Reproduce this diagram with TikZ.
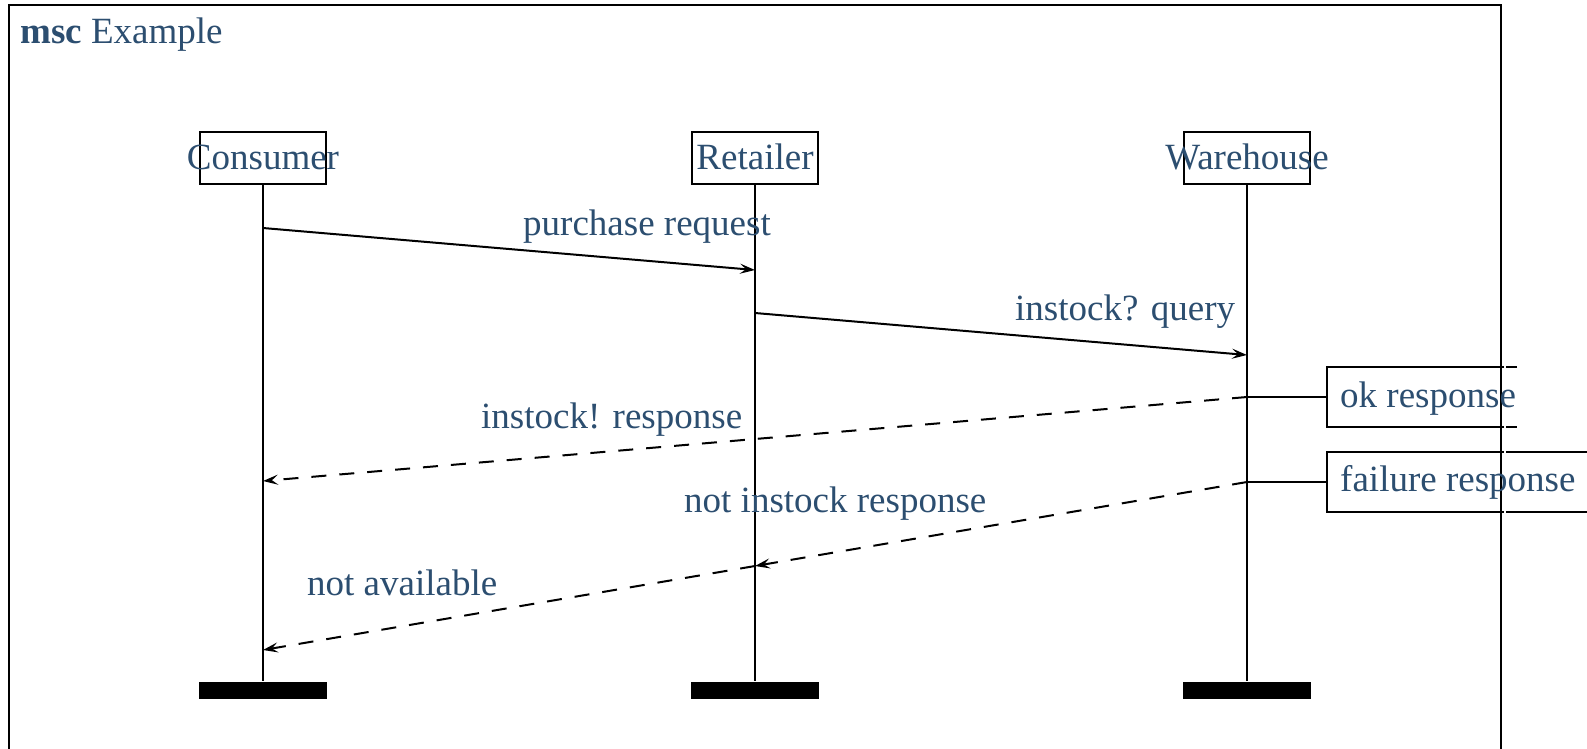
\documentclass[tikz,border=0pt]{standalone}
\usepackage{fontspec}
\setmainfont{Liberation Serif}
\usetikzlibrary{arrows.meta}
\definecolor{msctext}{RGB}{44,78,112}
\begin{document}
\begin{tikzpicture}[x=1pt,y=-1pt,
  lbl/.style={text=msctext, font=\fontsize{37}{44}\selectfont, inner sep=0pt},
  inst/.style={draw, line width=2.2pt, minimum width=126pt, minimum height=52pt, inner sep=0pt},
  endbar/.style={fill=black, minimum width=128pt, minimum height=17pt, inner sep=0pt},
  lifeline/.style={line width=2.2pt},
  msg/.style={line width=2pt, -{Stealth[length=15pt,width=10pt,inset=6pt]}},
  reply/.style={msg, dash pattern=on 15pt off 13pt},
  framed/.style={line width=2.2pt},
  cmt/.style={line width=2pt},
  ]
\clip (0,0) rectangle (1587,748);
\fill[white] (0,0) rectangle (1587,748);

% frame of the chart
\draw[framed] (9,5) rectangle (1501,800);
\node[lbl, anchor=base west] (title) at (20,43) {\textbf{msc} Example};

% instances
\node[inst] (cons) at (263,158) {};
\node[inst] (ret)  at (755,158) {};
\node[inst] (ware) at (1247,158) {};
\node[lbl, anchor=base] (consL) at (263,169) {Consumer};
\node[lbl, anchor=base] (retL)  at (755,169) {Retailer};
\node[lbl, anchor=base] (wareL) at (1247,169) {Warehouse};

% instance ends
\node[endbar] (consE) at (263,690) {};
\node[endbar] (retE)  at (755,690) {};
\node[endbar] (wareE) at (1247,690) {};

% lifelines
\draw[lifeline] (cons.south) -- (consE.north);
\draw[lifeline] (ret.south)  -- (retE.north);
\draw[lifeline] (ware.south) -- (wareE.north);

% message events on the lifelines
\coordinate (c1) at (263,228);
\coordinate (r1) at (755,270);
\coordinate (r2) at (755,313);
\coordinate (w2) at (1247,355);
\coordinate (w3) at (1247,397);
\coordinate (c3) at (263,481);
\coordinate (w4) at (1247,482);
\coordinate (r4) at (755,566);
\coordinate (r5) at (755,566);
\coordinate (c5) at (263,650);

% messages
\draw[msg] (c1) -- (r1);
\node[lbl, anchor=base west] (m1) at (523,235) {purchase request};
\draw[msg] (r2) -- (w2);
\node[lbl, anchor=base west] (m2) at (1015,320) {instock? query};
\draw[reply] (w3) -- (c3);
\node[lbl, anchor=base west] (m3) at (481,428) {instock! response};
\draw[reply] (w4) -- (r4);
\node[lbl, anchor=base west] (m4) at (684,512) {not instock response};
\draw[reply] (r5) -- (c5);
\node[lbl, anchor=base west] (m5) at (307,595) {not available};

% comments attached to the warehouse
\coordinate (okNW) at (1327,367);
\coordinate (okSW) at (1327,427);
\coordinate (okNE) at (1517,367);
\coordinate (okSE) at (1517,427);
\node[lbl, anchor=base west] (ok) at (1340,407) {ok response};
\draw[cmt] (okNE) -- (okNW) -- (okSW) -- (okSE);
\draw[cmt] (w3) -- (okNW |- w3);

\coordinate (faNW) at (1327,452);
\coordinate (faSW) at (1327,512);
\coordinate (faNE) at (1600,452);
\coordinate (faSE) at (1600,512);
\node[lbl, anchor=base west] (fail) at (1340,491) {failure response};
\draw[cmt] (faNE) -- (faNW) -- (faSW) -- (faSE);
\draw[cmt] (w4) -- (faNW |- w4);

% small breaks in the comment borders beside the frame
\foreach \yy in {367,427,452,512}
  \fill[white] (1503.5,\yy-1.5) rectangle (1505.5,\yy+1.5);
\end{tikzpicture}
\end{document}
